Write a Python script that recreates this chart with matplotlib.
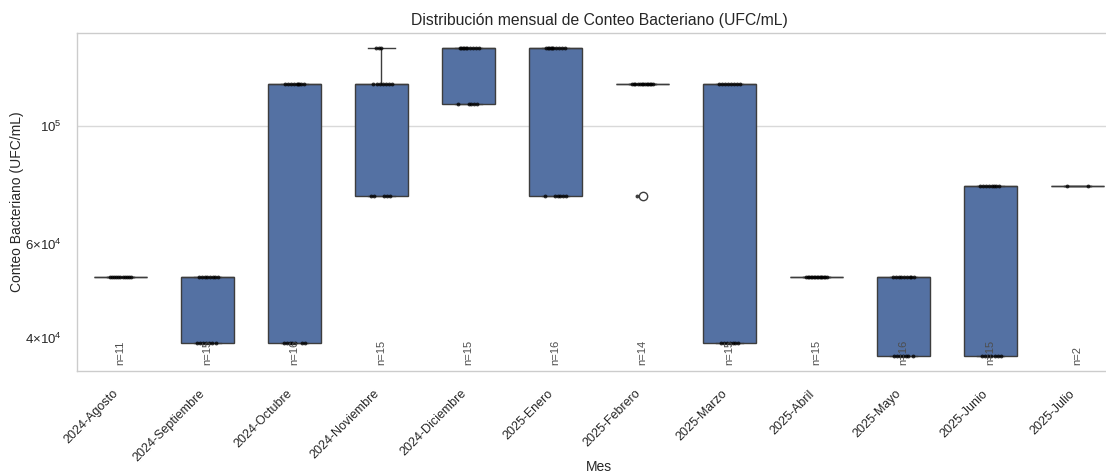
import matplotlib
matplotlib.use('Agg')
import matplotlib.pyplot as plt
import matplotlib.ticker as mticker
import numpy as np

# meses y valores (UFC/mL)
meses = ['2024-Agosto', '2024-Septiembre', '2024-Octubre', '2024-Noviembre',
         '2024-Diciembre', '2025-Enero', '2025-Febrero', '2025-Marzo',
         '2025-Abril', '2025-Mayo', '2025-Junio', '2025-Julio']

agosto = [52000] * 11
septiembre = [39000] * 7 + [52000] * 8
octubre = [39000] * 7 + [120000] * 9
noviembre = [74000] * 5 + [120000] * 7 + [140000] * 3
diciembre = [110000] * 5 + [140000] * 10
enero = [74000] * 6 + [140000] * 10
febrero = [74000] * 1 + [120000] * 13
marzo = [39000] * 7 + [120000] * 8
abril = [52000] * 15
mayo = [37000] * 7 + [52000] * 9
junio = [37000] * 7 + [77000] * 8
julio = [77000] * 2

datos = [agosto, septiembre, octubre, noviembre, diciembre, enero,
         febrero, marzo, abril, mayo, junio, julio]


def fmt_log(v, p):
    # como LogFormatterSciNotation (subconjunto 2,3,4,6), pero compacto
    if v <= 0:
        return ''
    e = int(np.floor(np.log10(v) + 1e-9))
    m = round(v / 10 ** e, 6)
    if abs(m - 1) < 1e-6:
        return r'$10^{%d}$' % e
    if m in (2, 3, 4, 6):
        return r'$%d{\times}10^{%d}$' % (m, e)
    return ''


plt.rcParams['font.family'] = ['Liberation Sans', 'DejaVu Sans']
plt.rcParams['mathtext.fontset'] = 'custom'
plt.rcParams['mathtext.rm'] = 'Liberation Sans'
plt.rcParams['mathtext.it'] = 'Liberation Sans:italic'
plt.rcParams['text.color'] = '0.15'
plt.rcParams['axes.labelcolor'] = '0.15'
plt.rcParams['xtick.color'] = '0.15'
plt.rcParams['ytick.color'] = '0.15'

fig = plt.figure(figsize=(11.06, 4.72), dpi=100)
# el eje sobresale un poco por la derecha, como en la imagen original
ax = fig.add_axes([0.0696, 0.214, 0.944, 0.716])

pos = np.arange(len(meses))
edge = '#3d3d3d'
ax.boxplot(datos, positions=pos, widths=0.6, patch_artist=True,
           boxprops=dict(facecolor='#5471a3', edgecolor=edge, linewidth=1.0),
           medianprops=dict(color=edge, linewidth=1.0),
           whiskerprops=dict(color=edge, linewidth=1.0),
           capprops=dict(color=edge, linewidth=1.0),
           flierprops=dict(marker='o', markerfacecolor='white',
                           markeredgecolor=edge, markersize=6, zorder=5),
           zorder=2)

# puntos individuales con desplazamiento fijo
for i, vals in enumerate(datos):
    n = len(vals)
    offs = np.linspace(-0.12, 0.12, n) if n > 1 else np.array([0.0])
    offs = np.roll(offs[::2].tolist() + offs[1::2].tolist(), i)
    ax.scatter(pos[i] + offs, vals, s=8, color='black', alpha=0.75,
               linewidths=0, zorder=4)

ax.set_yscale('log')
ax.yaxis.set_major_formatter(mticker.FuncFormatter(fmt_log))
ax.yaxis.set_minor_formatter(mticker.FuncFormatter(fmt_log))
ax.set_xlim(-0.5, len(meses) - 0.5)

for i, vals in enumerate(datos):
    ax.text(pos[i], 0.018, 'n=%d' % len(vals), rotation=90, ha='center',
            va='bottom', fontsize=8, color='0.3',
            transform=ax.get_xaxis_transform(), zorder=6)

ax.set_xticks(pos)
ax.set_xticklabels(meses, rotation=45, ha='right', fontsize=9)
ax.tick_params(axis='y', labelsize=9.5, which='both', length=0, pad=11)
ax.tick_params(axis='x', length=0, pad=12)

ax.grid(axis='y', which='major', color='0.85', linewidth=1.0, zorder=0)
ax.set_axisbelow(True)
for s in ax.spines.values():
    s.set_color('0.8')
    s.set_linewidth(1.0)

ax.set_title('Distribución mensual de Conteo Bacteriano (UFC/mL)', fontsize=11.3)
ax.set_xlabel('Mes', fontsize=10)
ax.set_ylabel('Conteo Bacteriano (UFC/mL)', fontsize=10)
ax.xaxis.set_label_coords(0.5, -0.262)
ax.yaxis.set_label_coords(-0.051, 0.5)

fig.savefig('out.png', dpi=100)
